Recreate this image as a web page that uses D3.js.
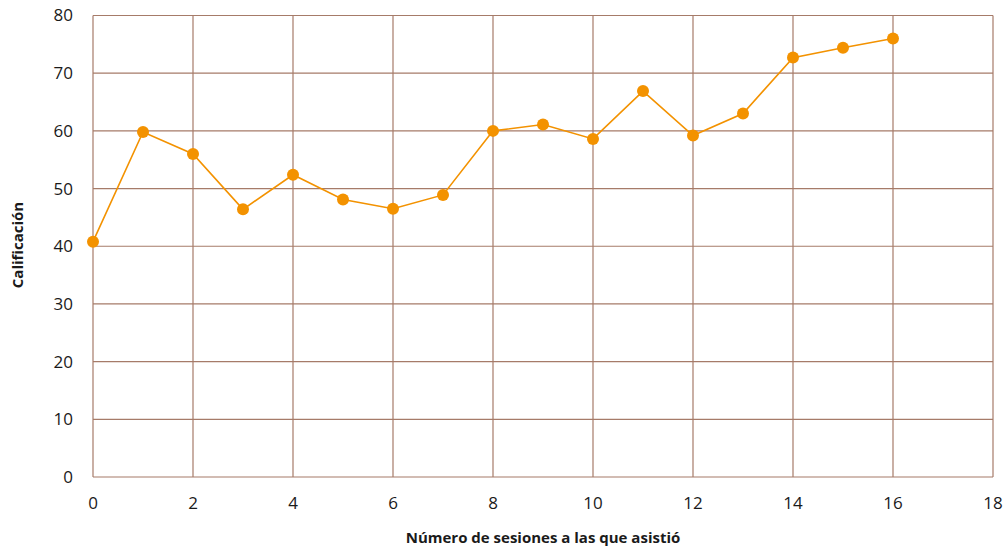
<!DOCTYPE html>
<html>
<head>
<meta charset="utf-8">
<script src="https://cdn.jsdelivr.net/npm/d3@7"></script>
<style>
  body { margin: 0; background: #fff; }
  text { font-family: "Open Sans", "Noto Sans", sans-serif; fill: #1a1a1a; }
</style>
</head>
<body>
<div id="chart"></div>
<script>
// datos
const sesiones = [0, 1, 2, 3, 4, 5, 6, 7, 8, 9, 10, 11, 12, 13, 14, 15, 16];
const calificacion = [40.8, 59.8, 56.0, 46.4, 52.4, 48.1, 46.5, 48.9, 60.0, 61.1, 58.6, 66.9, 59.2, 63.0, 72.7, 74.4, 76.0];
const xTicks = [0, 2, 4, 6, 8, 10, 12, 14, 16, 18];
const yTicks = [0, 10, 20, 30, 40, 50, 60, 70, 80];

const W = 1004, H = 550;
const margin = { top: 15.5, right: 11, bottom: 73, left: 93 };

const svg = d3.select('#chart').append('svg')
    .attr('width', W)
    .attr('height', H)
    .style('display', 'block');

const x = d3.scaleLinear().domain([0, 18]).range([margin.left, W - margin.right]);
const y = d3.scaleLinear().domain([0, 80]).range([H - margin.bottom, margin.top]);

const gridColor = '#a67b69';

// rejilla horizontal
svg.append('g')
    .selectAll('line')
    .data(yTicks)
    .join('line')
    .attr('x1', x(0)).attr('x2', x(18))
    .attr('y1', d => y(d)).attr('y2', d => y(d))
    .style('stroke', gridColor)
    .style('stroke-width', 1.2);

// rejilla vertical
svg.append('g')
    .selectAll('line')
    .data(xTicks)
    .join('line')
    .attr('x1', d => x(d)).attr('x2', d => x(d))
    .attr('y1', y(0)).attr('y2', y(80))
    .style('stroke', gridColor)
    .style('stroke-width', 1.2);

// etiquetas eje Y
svg.append('g')
    .selectAll('text')
    .data(yTicks)
    .join('text')
    .attr('x', 73)
    .attr('y', d => y(d))
    .attr('dy', '0.35em')
    .attr('text-anchor', 'end')
    .style('font-size', '17px')
    .text(d => d);

// etiquetas eje X
svg.append('g')
    .selectAll('text')
    .data(xTicks)
    .join('text')
    .attr('x', d => x(d))
    .attr('y', 509)
    .attr('text-anchor', 'middle')
    .style('font-size', '17px')
    .text(d => d);

// títulos de ejes
svg.append('text')
    .attr('x', 543)
    .attr('y', 543)
    .attr('text-anchor', 'middle')
    .style('font-size', '15px')
    .style('font-weight', 'bold')
    .text('Número de sesiones a las que asistió');

svg.append('text')
    .attr('transform', 'translate(23, 245) rotate(-90)')
    .attr('text-anchor', 'middle')
    .style('font-size', '15px')
    .style('font-weight', 'bold')
    .text('Calificación');

// línea y puntos
const datos = sesiones.map((s, i) => ({ s: s, c: calificacion[i] }));
const orange = '#f39200';

svg.append('path')
    .datum(datos)
    .attr('d', d3.line().x(d => x(d.s)).y(d => y(d.c)))
    .style('fill', 'none')
    .style('stroke', orange)
    .style('stroke-width', 1.6);

svg.append('g')
    .selectAll('circle')
    .data(datos)
    .join('circle')
    .attr('cx', d => x(d.s))
    .attr('cy', d => y(d.c))
    .attr('r', 6)
    .style('fill', orange);
</script>
</body>
</html>
